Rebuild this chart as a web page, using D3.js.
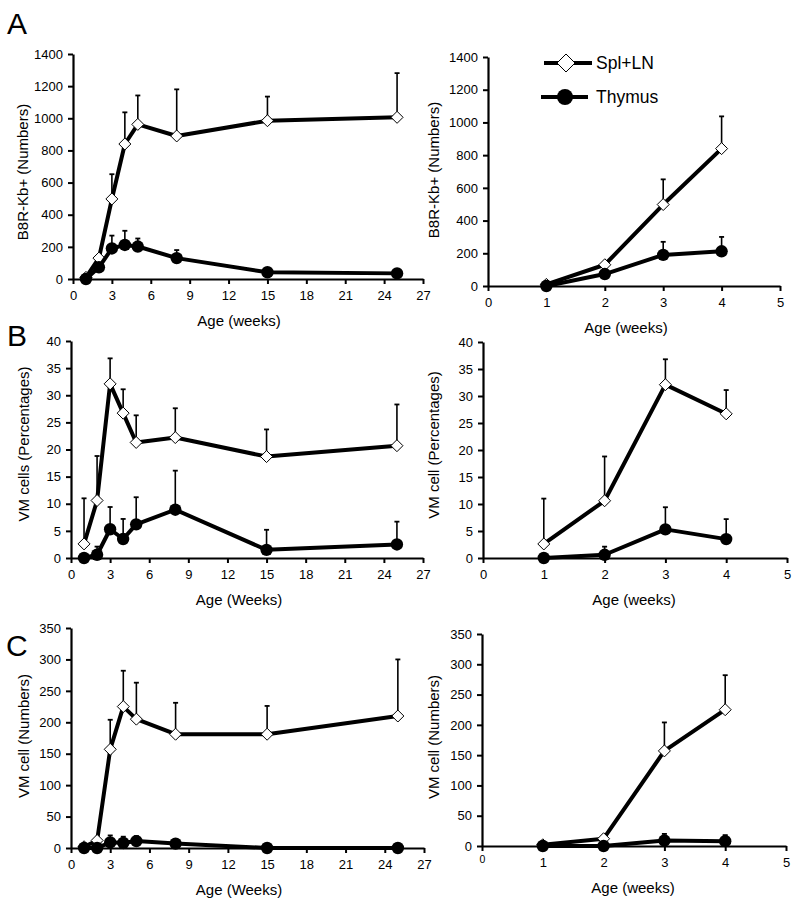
<!DOCTYPE html>
<html>
<head>
<meta charset="utf-8">
<script src="https://cdn.jsdelivr.net/npm/d3@7"></script>
<style>
  html, body { margin: 0; padding: 0; background: #fff; }
  svg { display: block; font-family: "Liberation Sans", Arial, Helvetica, sans-serif; }
</style>
</head>
<body>
<svg id="chart" width="799" height="907"></svg>
<script>
// ---------- DATA ----------
const weeks = [1, 2, 3, 4, 5, 8, 15, 25];
const weeksEarly = [1, 2, 3, 4];
const seriesNames = ["Spl+LN", "Thymus"];

const xTicksLong = [0, 3, 6, 9, 12, 15, 18, 21, 24, 27];
const xTicksShort = [0, 1, 2, 3, 4, 5];
const yTicksA = [0, 200, 400, 600, 800, 1000, 1200, 1400];
const yTicksB = [0, 5, 10, 15, 20, 25, 30, 35, 40];
const yTicksC = [0, 50, 100, 150, 200, 250, 300, 350];

// Panel A : B8R-Kb+ numbers
const splA    = [10, 130, 498, 840, 962, 890, 985, 1006];
const splAErr = [0, 0, 154, 197, 180, 290, 150, 275];
const thyA    = [0, 73, 190, 212, 202, 130, 42, 35];
const thyAErr = [0, 0, 80, 88, 50, 50, 0, 0];

// Panel B : VM cells percentages
const splB    = [2.6, 10.6, 32.1, 26.7, 21.3, 22.2, 18.7, 20.7];
const splBErr = [8.4, 8.2, 4.7, 4.4, 5.0, 5.4, 5.0, 7.6];
const thyB    = [0, 0.6, 5.3, 3.5, 6.2, 8.9, 1.5, 2.5];
const thyBErr = [0, 1.5, 4.1, 3.7, 5.0, 7.2, 3.7, 4.2];

// Panel C : VM cell numbers
const splC    = [2, 12, 157, 225, 205, 181, 181, 210];
const splCErr = [0, 0, 47, 57, 58, 50, 45, 90];
const thyC    = [0, 0, 9, 8, 11, 7, 0, 0];
const thyCErr = [0, 0, 11, 10, 8, 0, 0, 0];

const panelLetters = ["A", "B", "C"];

// ---------- DRAW ----------
const svg = d3.select("#chart");
svg.append("rect").attr("width", 799).attr("height", 907).attr("fill", "#fff");

function drawPanel(cfg) {
  const x = d3.scaleLinear().domain([0, cfg.xMax]).range([cfg.x0, cfg.x1]);
  const y = d3.scaleLinear().domain([0, cfg.yMax]).range([cfg.yBot, cfg.yTop]);
  const g = svg.append("g");
  const fmt = d3.format("d");

  // axes
  const ya = g.append("g").attr("transform", `translate(${cfg.x0},0)`)
    .call(d3.axisLeft(y).tickValues(cfg.yTicks).tickFormat(fmt).tickSize(5).tickSizeOuter(0).tickPadding(5));
  const xa = g.append("g").attr("transform", `translate(0,${cfg.yBot})`)
    .call(d3.axisBottom(x).tickValues(cfg.xTicks).tickFormat(fmt).tickSize(5).tickSizeOuter(0).tickPadding(7));
  [ya, xa].forEach(a => {
    a.select(".domain").attr("stroke", "#000").attr("stroke-width", 2.2);
    a.selectAll(".tick line").attr("stroke", "#000").attr("stroke-width", 2);
    a.selectAll(".tick text").attr("fill", "#000").attr("font-size", 13)
      .attr("font-family", '"Liberation Sans", Arial, sans-serif');
  });
  if (cfg.smallZero) {
    xa.selectAll(".tick text").filter(d => d === 0).attr("font-size", 10.5).attr("dy", "0.45em");
  }

  // titles
  g.append("text").attr("x", cfg.xTitleX).attr("y", cfg.yBot + 47)
    .attr("text-anchor", "middle").attr("font-size", 15).text(cfg.xTitle);
  g.append("text")
    .attr("transform", `translate(${cfg.yTitleX},${cfg.yTitleY}) rotate(-90)`)
    .attr("text-anchor", "middle").attr("dominant-baseline", "central")
    .attr("font-size", 15).text(cfg.yTitle);

  const line = d3.line().x(d => x(d[0])).y(d => y(d[1]));
  const series = [
    { vals: cfg.spl, err: cfg.splErr, type: "diamond" },
    { vals: cfg.thy, err: cfg.thyErr, type: "circle" }
  ];
  series.forEach(s => {
    const pts = cfg.weeks.map((w, i) => [w, s.vals[i], s.err[i]]);
    g.append("path").datum(pts).attr("d", line)
      .attr("fill", "none").attr("stroke", "#000").attr("stroke-width", 4)
      .attr("stroke-linejoin", "round");
    const eb = g.append("g");
    pts.filter(p => p[2] > 0).forEach(p => {
      eb.append("line").attr("x1", x(p[0])).attr("x2", x(p[0]))
        .attr("y1", y(p[1])).attr("y2", y(p[1] + p[2]))
        .attr("stroke", "#000").attr("stroke-width", 1.6);
      eb.append("line").attr("x1", x(p[0]) - 2.5).attr("x2", x(p[0]) + 2.5)
        .attr("y1", y(p[1] + p[2])).attr("y2", y(p[1] + p[2]))
        .attr("stroke", "#000").attr("stroke-width", 1.8);
    });
    if (s.type === "diamond") {
      g.append("g").selectAll("path").data(pts).join("path")
        .attr("d", d => {
          const cx = x(d[0]), cy = y(d[1]), r = 6;
          return `M${cx},${cy - r}L${cx + r},${cy}L${cx},${cy + r}L${cx - r},${cy}Z`;
        })
        .attr("fill", "#fff").attr("stroke", "#000").attr("stroke-width", 1);
    } else {
      g.append("g").selectAll("circle").data(pts).join("circle")
        .attr("cx", d => x(d[0])).attr("cy", d => y(d[1])).attr("r", 6.2)
        .attr("fill", "#000");
    }
  });
}

const sub = (arr) => arr.slice(0, weeksEarly.length);

const panels = [
  { x0: 73, x1: 423, yTop: 54, yBot: 279, xMax: 27, xTicks: xTicksLong, yMax: 1400, yTicks: yTicksA,
    weeks: weeks, spl: splA, splErr: splAErr, thy: thyA, thyErr: thyAErr,
    xTitle: "Age (weeks)", xTitleX: 239, yTitle: "B8R-Kb+ (Numbers)", yTitleX: 22, yTitleY: 172 },
  { x0: 488, x1: 780, yTop: 57, yBot: 286, xMax: 5, xTicks: xTicksShort, yMax: 1400, yTicks: yTicksA,
    weeks: weeksEarly, spl: sub(splA), splErr: sub(splAErr), thy: sub(thyA), thyErr: sub(thyAErr),
    xTitle: "Age (weeks)", xTitleX: 626, yTitle: "B8R-Kb+ (Numbers)", yTitleX: 433, yTitleY: 170 },
  { x0: 71, x1: 423, yTop: 341, yBot: 558, xMax: 27, xTicks: xTicksLong, yMax: 40, yTicks: yTicksB,
    weeks: weeks, spl: splB, splErr: splBErr, thy: thyB, thyErr: thyBErr,
    xTitle: "Age (Weeks)", xTitleX: 239, yTitle: "VM cells (Percentages)", yTitleX: 23, yTitleY: 444 },
  { x0: 483, x1: 787, yTop: 342, yBot: 558, xMax: 5, xTicks: xTicksShort, yMax: 40, yTicks: yTicksB,
    weeks: weeksEarly, spl: sub(splB), splErr: sub(splBErr), thy: sub(thyB), thyErr: sub(thyBErr),
    xTitle: "Age (weeks)", xTitleX: 634, yTitle: "VM cell (Percentages)", yTitleX: 433, yTitleY: 445 },
  { x0: 71, x1: 424, yTop: 628, yBot: 848, xMax: 27, xTicks: xTicksLong, yMax: 350, yTicks: yTicksC,
    weeks: weeks, spl: splC, splErr: splCErr, thy: thyC, thyErr: thyCErr,
    xTitle: "Age (Weeks)", xTitleX: 239, yTitle: "VM cell (Numbers)", yTitleX: 23, yTitleY: 736 },
  { x0: 482, x1: 786, yTop: 634, yBot: 846, xMax: 5, xTicks: xTicksShort, yMax: 350, yTicks: yTicksC,
    weeks: weeksEarly, spl: sub(splC), splErr: sub(splCErr), thy: sub(thyC), thyErr: sub(thyCErr),
    xTitle: "Age (weeks)", xTitleX: 633, yTitle: "VM cell (Numbers)", yTitleX: 433, yTitleY: 737, smallZero: true }
];
panels.forEach(drawPanel);

// panel letters
const letterPos = [[7, 34], [7, 346], [6, 656]];
panelLetters.forEach((L, i) => {
  svg.append("text").attr("x", letterPos[i][0]).attr("y", letterPos[i][1])
    .attr("font-size", 30).attr("fill", "#000").text(L);
});

// legend (in panel A right)
const leg = svg.append("g");
const legRows = [{ name: seriesNames[0], y: 63, x1: 544, x2: 592, cx: 566, type: "diamond" },
                 { name: seriesNames[1], y: 97, x1: 541, x2: 588, cx: 565, type: "circle" }];
legRows.forEach(r => {
  leg.append("line").attr("x1", r.x1).attr("x2", r.x2).attr("y1", r.y).attr("y2", r.y)
    .attr("stroke", "#000").attr("stroke-width", 4);
  if (r.type === "diamond") {
    const s = 9;
    leg.append("path").attr("d", `M${r.cx},${r.y - s}L${r.cx + s},${r.y}L${r.cx},${r.y + s}L${r.cx - s},${r.y}Z`)
      .attr("fill", "#fff").attr("stroke", "#000").attr("stroke-width", 1);
  } else {
    leg.append("circle").attr("cx", r.cx).attr("cy", r.y).attr("r", 8).attr("fill", "#000");
  }
  leg.append("text").attr("x", 596).attr("y", r.y + 6).attr("font-size", 17.5).text(r.name);
});
</script>
</body>
</html>
